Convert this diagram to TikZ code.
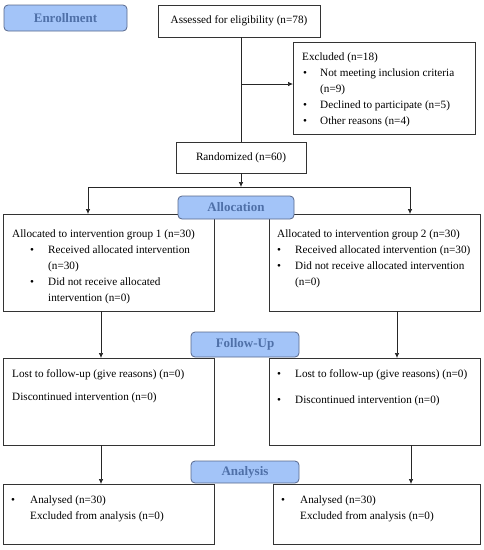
\documentclass[tikz,border=0pt]{standalone}
\usepackage{fontspec}
\setmainfont{Liberation Serif}
\usetikzlibrary{arrows.meta}
\definecolor{labfill}{RGB}{163,196,248}
\definecolor{labdraw}{RGB}{88,104,140}
\definecolor{labtext}{RGB}{79,112,168}
\tikzset{
  x=1pt,y=-1pt,
  box/.style={draw=black!80,line width=0.7pt,fill=white,anchor=north west,inner sep=0pt,outer sep=0pt},
  lab/.style={draw=labdraw,line width=0.8pt,fill=labfill,rounded corners=4pt,anchor=north west,inner sep=0pt,outer sep=0pt,
    font=\fontsize{13}{15}\selectfont\bfseries,text=labtext},
  txt/.style={anchor=north west,inner sep=0pt,align=left,font=\fontsize{11.2}{15.8}\selectfont},
  conn/.style={line width=0.7pt,draw=black!85},
  arr/.style={conn,-{Latex[length=5pt,width=4.5pt]}}
}
\newcommand{\bul}{\textbullet}
\begin{document}
\begin{tikzpicture}
\useasboundingbox (0,0) rectangle (484,550);
% boxes
\node[box,minimum width=162pt,minimum height=32pt] (assess) at (158,5) {};
\node[box,minimum width=182pt,minimum height=92pt] (excl) at (293,42) {};
\node[box,minimum width=130pt,minimum height=31pt] (rand) at (176,142) {};
\node[box,minimum width=211pt,minimum height=97pt] (g1) at (3,214) {};
\node[box,minimum width=211pt,minimum height=97pt] (g2) at (269,214) {};
\node[box,minimum width=211pt,minimum height=87pt] (f1) at (3,358) {};
\node[box,minimum width=211pt,minimum height=87pt] (f2) at (269,358) {};
\node[box,minimum width=211pt,minimum height=60pt] (a1) at (3,484) {};
\node[box,minimum width=207pt,minimum height=60pt] (a2) at (273,484) {};
% texts
\node[font=\fontsize{11.2}{14}\selectfont,inner sep=0pt] (assesst) at (assess.center) {Assessed for eligibility (n=78)};
\node[font=\fontsize{11.2}{14}\selectfont,inner sep=0pt] (randt) at (rand.center) {Randomized (n=60)};
\node[txt] (exclt) at (302,53) {Excluded (n=18)\\
\hspace*{1pt}\makebox[17pt][l]{\bul}Not meeting inclusion criteria\\
\hspace*{18pt}(n=9)\\
\hspace*{1pt}\makebox[17pt][l]{\bul}Declined to participate (n=5)\\
\hspace*{1pt}\makebox[17pt][l]{\bul}Other reasons (n=4)};
\node[txt] (g1t) at (12,230) {Allocated to intervention group 1 (n=30)\\
\hspace*{18pt}\makebox[18pt][l]{\bul}Received allocated intervention\\
\hspace*{36pt}(n=30)\\
\hspace*{18pt}\makebox[18pt][l]{\bul}Did not receive allocated\\
\hspace*{36pt}intervention (n=0)};
\node[txt] (g2t) at (277,230) {Allocated to intervention group 2 (n=30)\\
\makebox[18pt][l]{\bul}Received allocated intervention (n=30)\\
\makebox[18pt][l]{\bul}Did not receive allocated intervention\\
\hspace*{18pt}(n=0)};
\node[txt] (f1t) at (12,369) {Lost to follow-up (give reasons) (n=0)\\[8pt]
Discontinued intervention (n=0)};
\node[txt] (f2t) at (277,369) {\makebox[18pt][l]{\bul}Lost to follow-up (give reasons) (n=0)\\[11pt]
\makebox[18pt][l]{\bul}Discontinued intervention (n=0)};
\node[txt] (a1t) at (11,496) {\makebox[19pt][l]{\bul}Analysed (n=30)\\
\hspace*{19pt}Excluded from analysis (n=0)};
\node[txt] (a2t) at (281,496) {\makebox[19pt][l]{\bul}Analysed (n=30)\\
\hspace*{19pt}Excluded from analysis (n=0)};
% connectors
\coordinate (ex) at (241,84);
\coordinate (split) at (241,187);
\coordinate (sl) at (88,187);
\coordinate (sr) at (410,187);
\draw[conn] (assess.south -| ex) -- (rand.north -| ex);
\draw[arr] (ex) -- (ex -| excl.west);
\draw[arr] (rand.south -| split) -- (split);
\draw[conn] (sl) -- (sr);
\draw[arr] (sl) -- (sl |- g1.north);
\draw[arr] (sr) -- (sr |- g2.north);
\draw[arr] (g1.south west) ++(98,0) coordinate (g1o) -- (g1o |- f1.north);
\draw[arr] (g2.south west) ++(128,0) coordinate (g2o) -- (g2o |- f2.north);
\draw[arr] (f1.south west) ++(98,0) coordinate (f1o) -- (f1o |- a1.north);
\draw[arr] (f2.south west) ++(142,0) coordinate (f2o) -- (f2o |- a2.north);
% stage labels
\node[lab,minimum width=123pt,minimum height=26pt] (enr) at (4,5) {Enrollment};
\node[lab,minimum width=116pt,minimum height=23pt] (alloc) at (178,196) {Allocation};
\node[lab,minimum width=108pt,minimum height=25pt] (fu) at (191,332) {Follow-Up};
\node[lab,minimum width=108pt,minimum height=22pt] (ana) at (191,461) {Analysis};
\end{tikzpicture}
\end{document}
